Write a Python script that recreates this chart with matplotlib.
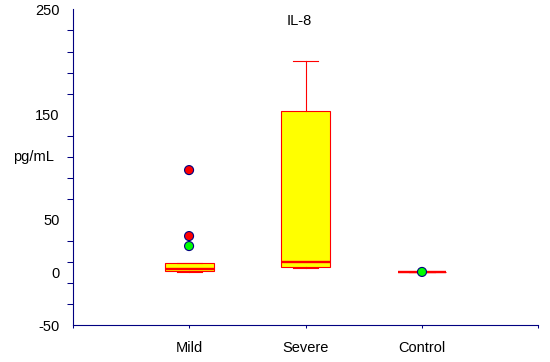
"""
IL-8 boxplot (Mild / Severe / Control)
"""

import matplotlib.pyplot as plt
import numpy as np

plt.rcParams['font.family'] = ['Liberation Sans', 'DejaVu Sans']

groups = ['Mild', 'Severe', 'Control']
q1 = [1.3, 4.8, 0.5]
medians = [3.2, 9.6, 0.5]
q3 = [8.9, 153.0, 0.5]
whislo = [0.4, 3.9, 0.5]
whishi = [8.9, 200.5, 0.5]

# losse punten (groep-index, waarde, kleur)
outlier_group = [0, 0, 0, 2]
outlier_values = [97.3, 34.6, 25.1, 0.5]
outlier_colors = ['#ff0000', '#ff0000', '#00ff00', '#00ff00']

ytick_values = [-50, 0, 50, 150, 250]
navy = '#000080'

fig = plt.figure(figsize=(5.5, 3.62), dpi=100)
ax = fig.add_axes([0.132, 0.102, 0.847, 0.872])

stats = []
for i, name in enumerate(groups):
    stats.append(dict(label=name, q1=q1[i], med=medians[i], q3=q3[i],
                      whislo=whislo[i], whishi=whishi[i], fliers=[]))

positions = np.arange(1, len(groups) + 1)
ax.bxp(stats, positions=positions, widths=0.42, capwidths=0.215,
       patch_artist=True, showfliers=False,
       boxprops=dict(facecolor='#ffff00', edgecolor='#ff0000', linewidth=0.8),
       medianprops=dict(color='#ff0000', linewidth=1.7),
       whiskerprops=dict(color='#ff0000', linewidth=0.8),
       capprops=dict(color='#ff0000', linewidth=0.8))

ax.scatter(positions[outlier_group], outlier_values, s=42, c=outlier_colors,
           edgecolors=navy, linewidths=0.8, zorder=5)

ax.set_xlim(0, 4)
ax.set_ylim(-50, 250)

ax.set_xticks([0, 1, 2, 3, 4])
ax.set_xticklabels([''] + groups + [''], fontsize=10.5)
ax.tick_params(axis='x', direction='out', length=2.2, width=0.75,
               color=navy, pad=9)

ax.set_yticks(ytick_values)
ax.set_yticklabels([str(v) for v in ytick_values], fontsize=10.5)
ax.set_yticks(np.arange(-50, 251, 20), minor=True)
ax.tick_params(axis='y', which='major', length=0, pad=9.5)
ax.tick_params(axis='y', which='minor', direction='out', length=4.3,
               width=0.75, color=navy)

ax.annotate('pg/mL', xy=(0, 110), xycoords=('axes fraction', 'data'),
            xytext=(-13.2, 0), textcoords='offset points',
            ha='right', va='center', fontsize=10.5)
ax.text(1.95, 239, 'IL-8', ha='center', va='center', fontsize=10.5)

for side in ['top', 'right']:
    ax.spines[side].set_visible(False)
for side in ['left', 'bottom']:
    ax.spines[side].set_color(navy)
    ax.spines[side].set_linewidth(0.8)

plt.savefig('out.png', dpi=100)
